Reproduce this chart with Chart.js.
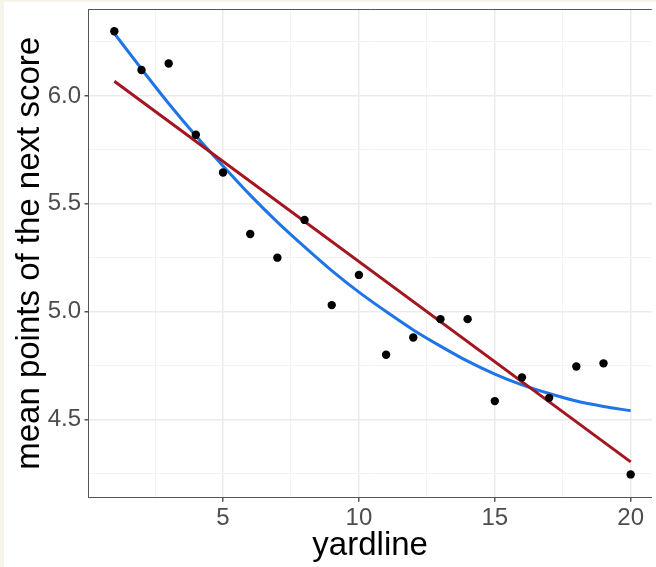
<!DOCTYPE html>
<html>
<head>
<meta charset="utf-8">
<script src="https://cdn.jsdelivr.net/npm/chart.js@4.4.1/dist/chart.umd.min.js"></script>
<style>
    html, body { margin: 0; padding: 0; background: #f7f5e9; }
    #wrap { position: absolute; left: 4px; top: 2px; width: 652px; height: 565px; background: #ffffff; }
</style>
</head>
<body>
<div id="wrap"><canvas id="chart" width="652" height="565"></canvas></div>
<script>
    // yardline vs mean points of the next score
    const yardlines = [1, 2, 3, 4, 5, 6, 7, 8, 9, 10, 11, 12, 13, 14, 15, 16, 17, 18, 19, 20];
    const meanPoints = [6.30, 6.12, 6.15, 5.82, 5.645, 5.36, 5.25, 5.425, 5.03, 5.17,
                        4.80, 4.88, 4.965, 4.965, 4.585, 4.695, 4.60, 4.745, 4.76, 4.245];

    // smooth curve (blue), read at each yardline
    const smoothFit = [6.29, 6.125, 5.965, 5.815, 5.675, 5.54, 5.415, 5.30, 5.19, 5.09,
                       5.00, 4.915, 4.84, 4.77, 4.71, 4.66, 4.62, 4.585, 4.56, 4.54];

    // straight fit (red), end points
    const linearX = [1, 20];
    const linearFit = [6.068, 4.303];

    const xTickLabels = [5, 10, 15, 20];
    const yTickLabels = [4.5, 5.0, 5.5, 6.0];

    const toPoints = (xs, ys) => xs.map((x, i) => ({ x: x, y: ys[i] }));

    const isMajor = (value, list) => list.some(v => Math.abs(v - value) < 1e-6);

    // ggplot style panel frame (top edge)
    const panelFrame = {
        id: 'panelFrame',
        afterDatasetsDraw(chart) {
            const { ctx, chartArea } = chart;
            ctx.save();
            ctx.strokeStyle = '#555555';
            ctx.lineWidth = 1;
            ctx.beginPath();
            ctx.moveTo(chartArea.left, chartArea.top + 0.5);
            ctx.lineTo(chartArea.right, chartArea.top + 0.5);
            ctx.stroke();
            ctx.restore();
        }
    };

    const noLabelPadding = (scale) => {
        scale.paddingTop = 0;
        scale.paddingBottom = 0;
        scale.paddingLeft = 0;
        scale.paddingRight = 0;
    };

    const ctx = document.getElementById('chart').getContext('2d');
    new Chart(ctx, {
        type: 'scatter',
        data: {
            datasets: [
                {
                    label: 'mean points',
                    data: toPoints(yardlines, meanPoints),
                    backgroundColor: '#000000',
                    borderColor: '#000000',
                    pointRadius: 4.2,
                    pointBorderWidth: 0,
                    order: 0
                },
                {
                    label: 'linear',
                    type: 'line',
                    data: toPoints(linearX, linearFit),
                    borderColor: '#a3161f',
                    borderWidth: 3,
                    pointRadius: 0,
                    fill: false,
                    order: 1
                },
                {
                    label: 'smooth',
                    type: 'line',
                    data: toPoints(yardlines, smoothFit),
                    borderColor: '#1f74e6',
                    borderWidth: 3,
                    pointRadius: 0,
                    cubicInterpolationMode: 'monotone',
                    fill: false,
                    order: 2
                }
            ]
        },
        options: {
            responsive: false,
            animation: false,
            layout: {
                padding: { top: 7, right: 0, bottom: 0, left: 0 }
            },
            plugins: {
                legend: { display: false },
                tooltip: { enabled: false }
            },
            scales: {
                x: {
                    type: 'linear',
                    min: 0.05,
                    max: 20.777,
                    afterFit: (scale) => { scale.height = 69.3; noLabelPadding(scale); },
                    border: { display: true, color: '#555555', width: 1 },
                    grid: {
                        color: (c) => isMajor(c.tick.value, xTickLabels) ? '#ebebeb' : '#f3f3f3',
                        lineWidth: (c) => isMajor(c.tick.value, xTickLabels) ? 1.5 : 1,
                        tickColor: (c) => isMajor(c.tick.value, xTickLabels) ? '#555555' : 'rgba(0,0,0,0)',
                        tickLength: 4
                    },
                    ticks: {
                        stepSize: 2.5,
                        includeBounds: false,
                        autoSkip: false,
                        maxRotation: 0,
                        padding: 2,
                        color: '#4d4d4d',
                        font: { family: 'Liberation Sans, Arial, sans-serif', size: 24 },
                        callback: (value) => isMajor(value, xTickLabels) ? String(value) : ''
                    },
                    title: {
                        display: true,
                        text: 'yardline',
                        color: '#000000',
                        padding: { top: 0, bottom: 1 },
                        font: { family: 'Liberation Sans, Arial, sans-serif', size: 33 }
                    }
                },
                y: {
                    type: 'linear',
                    min: 4.137,
                    max: 6.403,
                    afterFit: (scale) => { scale.width = 84.5; noLabelPadding(scale); },
                    border: { display: true, color: '#555555', width: 1 },
                    grid: {
                        color: (c) => isMajor(c.tick.value, yTickLabels) ? '#ebebeb' : '#f3f3f3',
                        lineWidth: (c) => isMajor(c.tick.value, yTickLabels) ? 1.5 : 1,
                        tickColor: (c) => isMajor(c.tick.value, yTickLabels) ? '#555555' : 'rgba(0,0,0,0)',
                        tickLength: 4
                    },
                    ticks: {
                        stepSize: 0.25,
                        includeBounds: false,
                        autoSkip: false,
                        padding: 3.5,
                        color: '#4d4d4d',
                        font: { family: 'Liberation Sans, Arial, sans-serif', size: 24 },
                        callback: (value) => isMajor(value, yTickLabels) ? value.toFixed(1) : ''
                    },
                    title: {
                        display: true,
                        text: 'mean points of the next score',
                        color: '#000000',
                        padding: { top: 6, bottom: 0 },
                        font: { family: 'Liberation Sans, Arial, sans-serif', size: 33 }
                    }
                }
            }
        },
        plugins: [panelFrame]
    });
</script>
</body>
</html>
